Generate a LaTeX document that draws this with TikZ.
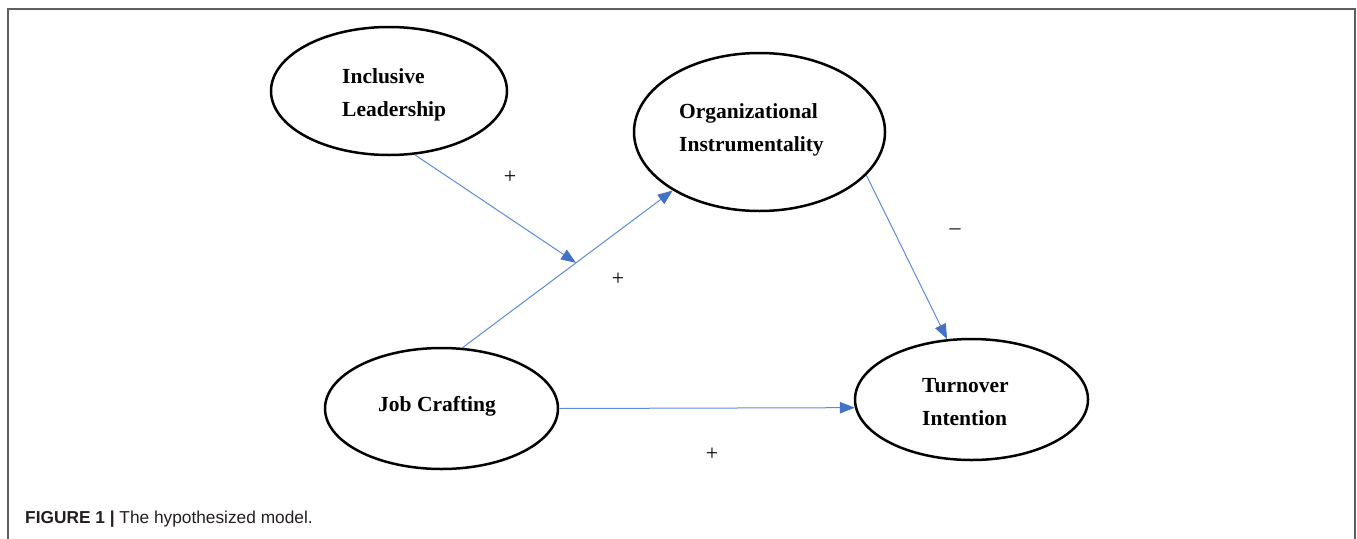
\documentclass[tikz,border=0pt]{standalone}
\usepackage{fontspec}
\setmainfont{Liberation Serif}
\newfontfamily\capfont{Liberation Sans}
\usetikzlibrary{shapes.geometric,arrows.meta,calc}
\definecolor{pathblue}{HTML}{4472C4}
\definecolor{lineblue}{HTML}{5E8ADA}
\definecolor{framegray}{HTML}{5F5F5F}
\definecolor{captext}{HTML}{231F20}
\tikzset{
  construct/.style={ellipse,draw=black,line width=2.5pt,inner sep=0pt},
  cname/.style={anchor=north west,inner sep=0pt,align=left,
    font=\fontsize{21.5}{33}\selectfont\bfseries},
  path arrow/.style={draw=lineblue,line width=1pt,
    -{Triangle[length=15pt,width=11.5pt,color=pathblue]}},
  sign/.style={inner sep=0pt,font=\fontsize{22}{22}\selectfont},
}
\begin{document}
\begin{tikzpicture}[x=1pt,y=-1pt]
  \useasboundingbox (0,0) rectangle (1357,538);
  % open frame around the figure
  \draw[framegray,line width=1.6pt] (8,540) -- (8,9) -- (1355,9) -- (1355,540);

  % constructs
  \node[construct,minimum width=236pt,minimum height=128pt] (il) at (389,91) {};
  \node[construct,minimum width=251pt,minimum height=158pt] (oi) at (759.5,132) {};
  \node[construct,minimum width=233pt,minimum height=121pt] (jc) at (441.5,408.5) {};
  \node[construct,minimum width=233pt,minimum height=121pt] (ti) at (971.5,399.5) {};

  \node[cname] (ilt) at (342,68) {Inclusive\\Leadership};
  \node[cname] (oit) at (679,103) {Organizational\\Instrumentality};
  \node[cname] (jct) at (378,396) {Job Crafting};
  \node[cname] (tit) at (922,378) {Turnover\\Intention};

  % hypothesized paths
  \draw[path arrow] (jc.71) -- (oi.214.5);
  \coordinate (mod) at ($(jc.71)!0.54!(oi.214.5)$);
  \draw[path arrow] (il.-68.5) -- (mod);
  \draw[path arrow] (oi.-22.7) -- (ti.112.5);
  \draw[path arrow] (jc.0) -- (ti.184.5);

  % path signs
  \node[sign] (s1) at (510,177) {+};
  \node[sign] (s2) at (618,279) {+};
  \node[sign] (s3) at (955,232) {\textendash};
  \node[sign] (s4) at (712,454) {+};

  % caption
  \node[anchor=base west,inner sep=0pt,text=captext,
    font=\capfont\fontsize{17.3}{17.3}\selectfont] (cap) at (25,523)
    {{\bfseries FIGURE 1 |} The hypothesized model.};
\end{tikzpicture}
\end{document}
